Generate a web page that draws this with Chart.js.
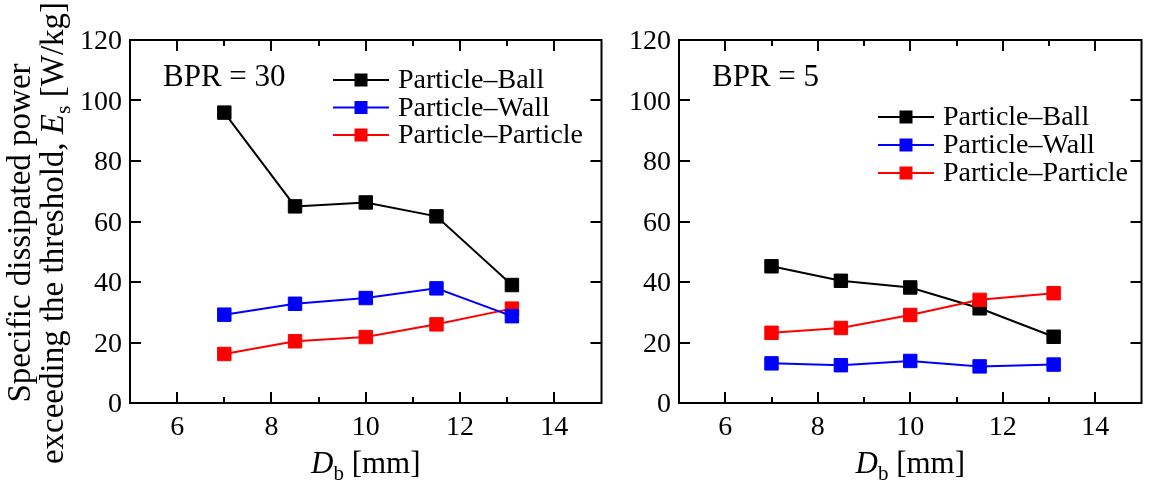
<!DOCTYPE html>
<html>
<head>
<meta charset="utf-8">
<script src="https://cdn.jsdelivr.net/npm/chart.js@4.4.0/dist/chart.umd.min.js"></script>
<style>
html, body { margin: 0; padding: 0; background: #fff; overflow: hidden; }
#wrap { position: relative; width: 1149px; height: 485px; overflow: hidden; }
canvas { position: absolute; top: 0; }
</style>
</head>
<body>
<div id="wrap">
  <canvas id="chart-bpr30" width="612" height="485" style="left:0"></canvas>
  <canvas id="chart-bpr5" width="540" height="485" style="left:612px"></canvas>
</div>
<script>
// Ball diameter D_b [mm]
var ballDiameters = [7, 8.5, 10, 11.5, 13.1];

var seriesNames = ['Particle\u2013Ball', 'Particle\u2013Wall', 'Particle\u2013Particle'];
var seriesColors = ['#000000', '#0000ff', '#ff0000'];

// BPR = 30
var bpr30Ball = [96.0, 65.0, 66.3, 61.7, 39.0];
var bpr30Wall = [29.2, 32.8, 34.7, 37.9, 28.7];
var bpr30Particle = [16.2, 20.4, 21.8, 26.0, 31.2];

// BPR = 5
var bpr5Ball = [45.2, 40.4, 38.2, 31.3, 21.9];
var bpr5Wall = [13.1, 12.5, 13.9, 12.1, 12.7];
var bpr5Particle = [23.2, 24.8, 29.1, 34.1, 36.3];

var xTicks = [6, 8, 10, 12, 14];
var xMinorTicks = [7, 9, 11, 13];
var yTicks = [0, 20, 40, 60, 80, 100, 120];

var SERIF = "'Liberation Serif', serif";

function makeDatasets(values) {
    // draw order: Ball underneath, then Particle, Wall on top
    var order = [3, 1, 2];
    return values.map(function (vals, i) {
        return {
            label: seriesNames[i],
            data: vals.map(function (v, j) { return { x: ballDiameters[j], y: v }; }),
            borderColor: seriesColors[i],
            backgroundColor: seriesColors[i],
            borderWidth: 2,
            pointStyle: 'rect',
            pointRadius: 9.5,
            pointBorderWidth: 1,
            pointBorderColor: seriesColors[i],
            pointBackgroundColor: seriesColors[i],
            tension: 0,
            order: order[i]
        };
    });
}

// Frame with inward ticks on all four sides, plus tick labels
var framePlugin = {
    id: 'frame',
    afterDatasetsDraw: function (chart) {
        var ctx = chart.ctx, a = chart.chartArea;
        var xs = chart.scales.x, ys = chart.scales.y;
        ctx.save();
        ctx.strokeStyle = '#000';
        ctx.lineWidth = 2;
        ctx.strokeRect(a.left, a.top, a.right - a.left, a.bottom - a.top);
        ctx.beginPath();
        xTicks.forEach(function (v) {
            var px = Math.round(xs.getPixelForValue(v));
            ctx.moveTo(px, a.bottom); ctx.lineTo(px, a.bottom - 11);
            ctx.moveTo(px, a.top); ctx.lineTo(px, a.top + 11);
        });
        xMinorTicks.forEach(function (v) {
            var px = Math.round(xs.getPixelForValue(v));
            ctx.moveTo(px, a.bottom); ctx.lineTo(px, a.bottom - 6);
            ctx.moveTo(px, a.top); ctx.lineTo(px, a.top + 6);
        });
        yTicks.forEach(function (v) {
            var py = Math.round(ys.getPixelForValue(v));
            ctx.moveTo(a.left, py); ctx.lineTo(a.left + 11, py);
            ctx.moveTo(a.right, py); ctx.lineTo(a.right - 11, py);
        });
        ctx.stroke();

        ctx.fillStyle = '#000';
        ctx.font = '28px ' + SERIF;
        ctx.textBaseline = 'alphabetic';
        ctx.textAlign = 'center';
        xTicks.forEach(function (v) {
            ctx.fillText(String(v), xs.getPixelForValue(v), a.bottom + 32);
        });
        ctx.textAlign = 'right';
        yTicks.forEach(function (v) {
            ctx.fillText(String(v), a.left - 8, ys.getPixelForValue(v) + 9);
        });
        ctx.restore();
    }
};

// draws text made of pieces (italic letter, subscript ...) centred on x
function drawRich(ctx, parts, cx, y) {
    var total = 0;
    parts.forEach(function (p) {
        ctx.font = p.font;
        p.w = ctx.measureText(p.t).width;
        total += p.w;
    });
    var x = cx - total / 2;
    ctx.textAlign = 'left';
    ctx.textBaseline = 'alphabetic';
    parts.forEach(function (p) {
        ctx.font = p.font;
        ctx.fillText(p.t, x, y + (p.dy || 0));
        x += p.w;
    });
}

// Legend, panel label and axis titles
var textPlugin = {
    id: 'texts',
    afterDraw: function (chart, args, opts) {
        var ctx = chart.ctx, a = chart.chartArea;
        ctx.save();
        ctx.fillStyle = '#000';

        ctx.font = '31px ' + SERIF;
        ctx.textAlign = 'left';
        ctx.textBaseline = 'middle';
        ctx.fillText(opts.label, opts.labelX, opts.labelY);

        var lg = opts.legend;
        [0, 1, 2].forEach(function (i) {
            var y = lg.y + i * lg.step;
            ctx.strokeStyle = seriesColors[i];
            ctx.lineWidth = 2;
            ctx.beginPath();
            ctx.moveTo(lg.x, y);
            ctx.lineTo(lg.x + 56, y);
            ctx.stroke();
            ctx.fillStyle = seriesColors[i];
            ctx.fillRect(lg.x + 28 - 6.5, y - 6.5, 13, 13);
            ctx.fillStyle = '#000';
            ctx.font = '28px ' + SERIF;
            ctx.textBaseline = 'middle';
            ctx.fillText(chart.data.datasets[i].label, lg.x + 65, y + 1);
        });

        // x title: D_b [mm]
        drawRich(ctx, [
            { t: 'D', font: 'italic 31px ' + SERIF },
            { t: 'b', font: '21px ' + SERIF, dy: 7 },
            { t: ' [mm]', font: '31px ' + SERIF }
        ], (a.left + a.right) / 2, 473);

        if (opts.yTitle) {
            ctx.translate(0, 233);
            ctx.rotate(-Math.PI / 2);
            drawRich(ctx, [{ t: 'Specific dissipated power', font: '33px ' + SERIF }], 0, 30);
            drawRich(ctx, [
                { t: 'exceeding the threshold, ', font: '33px ' + SERIF },
                { t: 'E', font: 'italic 33px ' + SERIF },
                { t: 's', font: '22px ' + SERIF, dy: 7 },
                { t: ' [W/kg]', font: '33px ' + SERIF }
            ], 0, 63);
        }
        ctx.restore();
    }
};

function makeChart(id, values, yWidth, rightPad, texts) {
    return new Chart(document.getElementById(id), {
        type: 'line',
        data: { datasets: makeDatasets(values) },
        plugins: [framePlugin, textPlugin],
        options: {
            responsive: false,
            animation: false,
            events: [],
            layout: { padding: { left: 0, top: 40, right: rightPad, bottom: 0 } },
            scales: {
                x: {
                    type: 'linear',
                    min: 5,
                    max: 15,
                    afterFit: function (s) { s.height = 82; },
                    grid: { display: false, drawTicks: false },
                    border: { display: false },
                    ticks: { display: false }
                },
                y: {
                    type: 'linear',
                    min: 0,
                    max: 120,
                    afterFit: function (s) { s.width = yWidth; },
                    grid: { display: false, drawTicks: false },
                    border: { display: false },
                    ticks: { display: false }
                }
            },
            plugins: {
                legend: { display: false },
                tooltip: { enabled: false },
                texts: texts
            }
        }
    });
}

makeChart('chart-bpr30', [bpr30Ball, bpr30Wall, bpr30Particle], 130, 10, {
    label: 'BPR = 30', labelX: 163, labelY: 78,
    legend: { x: 333, y: 80, step: 27.5 },
    yTitle: true
});

makeChart('chart-bpr5', [bpr5Ball, bpr5Wall, bpr5Particle], 67, 2, {
    label: 'BPR = 5', labelX: 712 - 612, labelY: 78,
    legend: { x: 878 - 612, y: 117, step: 28 },
    yTitle: false
});
</script>
</body>
</html>
